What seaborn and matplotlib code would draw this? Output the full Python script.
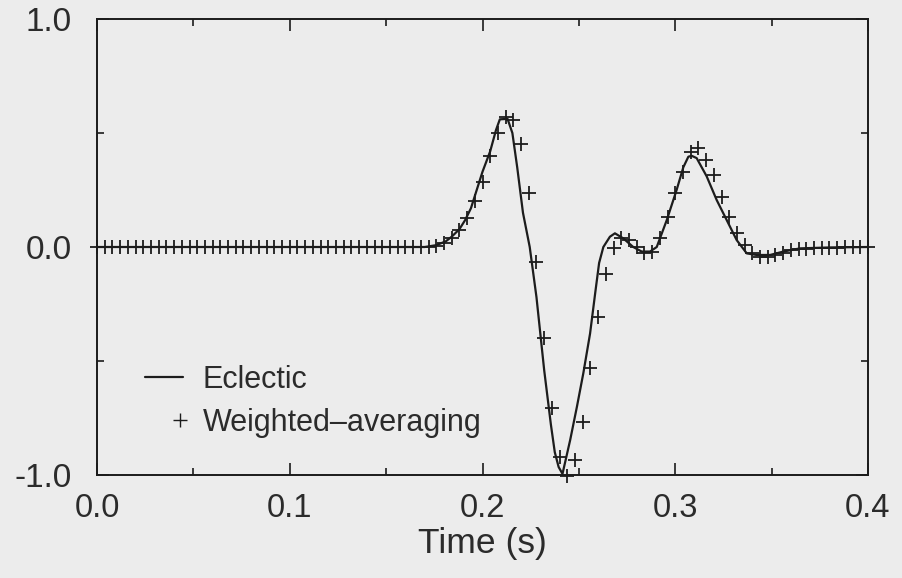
import numpy as np
import matplotlib
matplotlib.use("Agg")
import matplotlib.pyplot as plt
import seaborn as sns
from matplotlib.lines import Line2D
from matplotlib.legend_handler import HandlerLine2D
from matplotlib.ticker import MultipleLocator, FormatStrFormatter

# ---------------- data ----------------
# Eclectic: continuous curve
eclectic_t = [0.000, 0.170, 0.176, 0.181, 0.184, 0.188, 0.191, 0.194, 0.197, 0.200,
              0.204, 0.207, 0.209, 0.213, 0.2155, 0.218, 0.221, 0.2245, 0.228, 0.232,
              0.2355, 0.2375, 0.2395, 0.2415, 0.2455, 0.249, 0.2523, 0.2558, 0.2585, 0.2605,
              0.2627, 0.2661, 0.2687, 0.273, 0.2782, 0.2826, 0.2869, 0.2904, 0.2956, 0.3007,
              0.3042, 0.3068, 0.3085, 0.3111, 0.3163, 0.3215, 0.3267, 0.3319, 0.3371, 0.3423,
              0.3492, 0.3561, 0.3647, 0.380, 0.400]
eclectic_y = [0.000, 0.000, 0.008, 0.025, 0.045, 0.078, 0.118, 0.170, 0.250, 0.330,
              0.420, 0.513, 0.560, 0.562, 0.500, 0.350, 0.150, 0.000, -0.220, -0.540,
              -0.780, -0.900, -0.965, -0.995, -0.846, -0.700, -0.554, -0.380, -0.200, -0.070,
              0.000, 0.045, 0.060, 0.038, 0.000, -0.020, -0.020, 0.000, 0.118, 0.250,
              0.350, 0.396, 0.400, 0.390, 0.310, 0.206, 0.118, 0.030, -0.028, -0.035,
              -0.035, -0.020, -0.006, -0.002, 0.000]

# Weighted-averaging: samples every 4 ms from 0.0 s to 0.4 s
wa_t = np.round(np.linspace(0.0, 0.4, 101), 3)
wa_y = [0.000, 0.000, 0.000, 0.000, 0.000, 0.000, 0.000, 0.000, 0.000, 0.000,
        0.000, 0.000, 0.000, 0.000, 0.000, 0.000, 0.000, 0.000, 0.000, 0.000,
        0.000, 0.000, 0.000, 0.000, 0.000, 0.000, 0.000, 0.000, 0.000, 0.000,
        0.000, 0.000, 0.000, 0.000, 0.000, 0.000, 0.000, 0.000, 0.000, 0.000,
        0.000, 0.000, 0.000, 0.000, 0.005, 0.018, 0.038, 0.075, 0.126, 0.200,
        0.286, 0.400, 0.500, 0.570, 0.557, 0.450, 0.235, -0.064, -0.400, -0.707,
        -0.920, -1.005, -0.934, -0.766, -0.530, -0.305, -0.120, -0.006, 0.040, 0.030,
        0.000, -0.028, -0.020, 0.040, 0.130, 0.235, 0.330, 0.418, 0.433, 0.380,
        0.316, 0.220, 0.133, 0.060, 0.009, -0.028, -0.042, -0.042, -0.035, -0.025,
        -0.013, -0.010, -0.008, -0.006, -0.005, -0.004, -0.003, -0.002, -0.002, -0.001,
        0.000]

labels = ["Eclectic", "Weighted\u2013averaging"]
x_label = "Time (s)"

# ---------------- style ----------------
BG = "#ececec"
INK = "#1c1c1c"
TXT = "#2b2b2b"

sns.set_theme(style="ticks")
plt.rcParams["font.family"] = ["Liberation Sans", "DejaVu Sans"]

fig = plt.figure(figsize=(9.03, 5.78), dpi=100, facecolor=BG)
ax = fig.add_axes([97 / 903, 1 - 475 / 578, 771 / 903, 456 / 578])
ax.set_facecolor(BG)

sns.lineplot(x=eclectic_t, y=eclectic_y, ax=ax, color=INK, lw=1.6,
             sort=False, estimator=None)
sns.scatterplot(x=wa_t, y=wa_y, ax=ax, marker="+", s=110, color=INK,
                linewidth=1.3, clip_on=False, zorder=3)

ax.set_xlim(0, 0.4)
ax.set_ylim(-1, 1)
ax.xaxis.set_major_locator(MultipleLocator(0.1))
ax.xaxis.set_minor_locator(MultipleLocator(0.05))
ax.yaxis.set_major_locator(MultipleLocator(1.0))
ax.yaxis.set_minor_locator(MultipleLocator(0.5))
ax.xaxis.set_major_formatter(FormatStrFormatter("%.1f"))
ax.yaxis.set_major_formatter(FormatStrFormatter("%.1f"))

ax.tick_params(which="both", direction="in", top=True, right=True,
               width=1.2, color=INK, labelcolor=TXT)
ax.tick_params(which="major", length=8.5)
ax.tick_params(which="minor", length=5)
ax.tick_params(axis="x", which="major", labelsize=23.5, pad=13)
ax.tick_params(axis="y", which="major", labelsize=24, pad=18)

for sp in ax.spines.values():
    sp.set_linewidth(1.4)
    sp.set_color(INK)

ax.set_xlabel(x_label, fontsize=25.5, color=TXT, labelpad=2)
ax.set_ylabel("")


class EndMarkerHandler(HandlerLine2D):
    """Line handle whose single marker sits at the right end of the handle."""
    def get_xdata(self, legend, xdescent, ydescent, width, height, fontsize):
        m = -xdescent + width - 0.08 * fontsize
        return np.array([m - 1.0, m + 1.0]), np.array([m])


h_line = Line2D([], [], color=INK, lw=1.6)
h_mark = Line2D([], [], ls="none", marker="+", ms=9.5, mew=1.0, color=INK)
ax.legend([h_line, h_mark], labels,
          handler_map={h_mark: EndMarkerHandler(numpoints=1)},
          loc="upper left", bbox_to_anchor=(0.0623, 0.2415),
          frameon=False, fontsize=22, handlelength=1.24, handletextpad=0.65,
          borderpad=0, borderaxespad=0, labelspacing=0.425, labelcolor=TXT)

fig.savefig("out.png", dpi=100, facecolor=BG)
